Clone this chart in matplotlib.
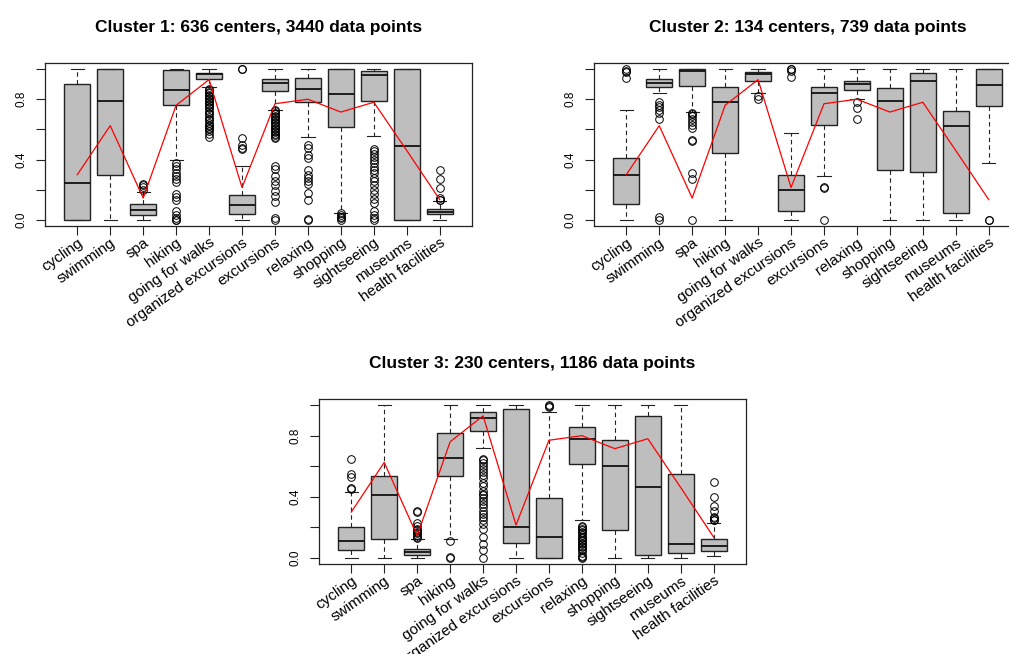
import matplotlib
matplotlib.use("Agg")
import matplotlib.pyplot as plt

plt.rcParams['font.family'] = ['Liberation Sans', 'DejaVu Sans']

activities = ["cycling", "swimming", "spa", "hiking", "going for walks",
              "organized excursions", "excursions", "relaxing", "shopping",
              "sightseeing", "museums", "health facilities"]

# overall mean per activity (red line, same in every panel)
overall_mean = [0.30, 0.625, 0.145, 0.76, 0.93, 0.215, 0.77, 0.80, 0.715, 0.78, 0.46, 0.135]

titles = ["Cluster 1: 636 centers, 3440 data points",
          "Cluster 2: 134 centers, 739 data points",
          "Cluster 3: 230 centers, 1186 data points"]

# cluster 1
c1_lo  = [0.0, 0.0, 0.0, 0.40, 0.88, 0.0, 0.73, 0.548, 0.048, 0.555, 0.0, 0.0]
c1_q1  = [0.0, 0.30, 0.033, 0.76, 0.936, 0.037, 0.855, 0.78, 0.614, 0.785, 0.0, 0.04]
c1_med = [0.245, 0.785, 0.068, 0.86, 0.965, 0.10, 0.91, 0.866, 0.833, 0.958, 0.49, 0.055]
c1_q3  = [0.90, 1.0, 0.105, 0.995, 0.976, 0.167, 0.934, 0.94, 1.0, 0.985, 1.0, 0.072]
c1_hi  = [1.0, 1.0, 0.186, 1.0, 1.0, 0.355, 1.0, 1.0, 1.0, 1.0, 1.0, 0.125]
c1_out = [
    [],
    [],
    [0.20, 0.22, 0.23, 0.24],
    [0.38, 0.36, 0.34, 0.31, 0.29, 0.27, 0.25, 0.17, 0.15, 0.13, 0.06, 0.03, 0.01, 0.0, 0.003],
    [0.87, 0.86, 0.85, 0.84, 0.83, 0.82, 0.81, 0.80, 0.79, 0.78, 0.77, 0.76, 0.75, 0.74,
     0.72, 0.71, 0.70, 0.68, 0.67, 0.66, 0.64, 0.63, 0.62, 0.61, 0.60, 0.59, 0.57, 0.55],
    [1.0, 0.997, 0.54, 0.50, 0.48, 0.47],
    [0.73, 0.72, 0.71, 0.70, 0.69, 0.68, 0.67, 0.66, 0.65, 0.64, 0.63, 0.62, 0.61, 0.60,
     0.59, 0.58, 0.57, 0.56, 0.55, 0.54, 0.36, 0.34, 0.29, 0.26, 0.23, 0.19, 0.16, 0.12,
     0.01, 0.0],
    [0.50, 0.48, 0.43, 0.41, 0.33, 0.30, 0.28, 0.26, 0.24, 0.18, 0.13, 0.0, 0.005],
    [0.045, 0.03, 0.02, 0.01, 0.0],
    [0.47, 0.46, 0.44, 0.42, 0.40, 0.38, 0.35, 0.33, 0.31, 0.28, 0.26, 0.23, 0.20, 0.17,
     0.14, 0.11, 0.06, 0.03, 0.01, 0.0],
    [],
    [0.33, 0.27, 0.21, 0.145, 0.135, 0.13],
]

# cluster 2
c2_lo  = [0.0, 0.842, 0.717, 0.0, 0.838, 0.0, 0.294, 0.80, 0.0, 0.0, 0.0, 0.38]
c2_q1  = [0.107, 0.88, 0.888, 0.443, 0.92, 0.061, 0.63, 0.864, 0.33, 0.316, 0.048, 0.752]
c2_med = [0.30, 0.91, 0.985, 0.78, 0.967, 0.20, 0.84, 0.90, 0.785, 0.923, 0.62, 0.893]
c2_q3  = [0.41, 0.932, 0.998, 0.88, 0.98, 0.296, 0.879, 0.92, 0.875, 0.971, 0.72, 1.0]
c2_hi  = [0.728, 1.0, 1.0, 1.0, 1.0, 0.575, 1.0, 1.0, 1.0, 1.0, 1.0, 1.0]
c2_out = [
    [1.0, 0.99, 0.98, 0.94],
    [0.78, 0.76, 0.75, 0.73, 0.71, 0.67, 0.02, 0.0],
    [0.71, 0.70, 0.69, 0.67, 0.65, 0.63, 0.61, 0.53, 0.52, 0.31, 0.27, 0.0],
    [],
    [0.82, 0.80],
    [1.0, 0.997, 0.99, 0.95],
    [0.22, 0.215, 0.0],
    [0.78, 0.74, 0.67],
    [],
    [],
    [],
    [0.0, 0.003],
]

# cluster 3
c3_lo  = [0.0, 0.0, 0.0, 0.125, 0.72, 0.0, 0.0, 0.246, 0.0, 0.0, 0.0, 0.011]
c3_q1  = [0.05, 0.125, 0.022, 0.537, 0.83, 0.10, 0.0, 0.612, 0.184, 0.022, 0.033, 0.048]
c3_med = [0.112, 0.414, 0.04, 0.651, 0.914, 0.20, 0.14, 0.778, 0.599, 0.465, 0.092, 0.081]
c3_q3  = [0.204, 0.535, 0.061, 0.82, 0.952, 0.974, 0.393, 0.86, 0.772, 0.928, 0.55, 0.125]
c3_hi  = [0.43, 1.0, 0.125, 1.0, 1.0, 1.0, 0.958, 1.0, 1.0, 1.0, 1.0, 0.23]
c3_out = [
    [0.65, 0.55, 0.53, 0.46, 0.45],
    [],
    [0.31, 0.30, 0.23, 0.21, 0.19, 0.18, 0.17, 0.16, 0.15, 0.14, 0.13],
    [0.11, 0.0, 0.003],
    [0.65, 0.64, 0.62, 0.60, 0.58, 0.56, 0.54, 0.52, 0.49, 0.47, 0.44, 0.42, 0.41, 0.39,
     0.37, 0.35, 0.33, 0.31, 0.29, 0.27, 0.25, 0.22, 0.19, 0.14, 0.09, 0.05, 0.0],
    [],
    [1.0, 0.997, 0.99],
    [0.21, 0.20, 0.19, 0.18, 0.17, 0.16, 0.15, 0.14, 0.13, 0.12, 0.11, 0.10, 0.09, 0.08,
     0.07, 0.06, 0.05, 0.03, 0.01, 0.0, 0.003],
    [],
    [],
    [],
    [0.50, 0.40, 0.34, 0.31, 0.27, 0.26, 0.25, 0.248],
]

clusters = [
    (c1_lo, c1_q1, c1_med, c1_q3, c1_hi, c1_out),
    (c2_lo, c2_q1, c2_med, c2_q3, c2_hi, c2_out),
    (c3_lo, c3_q1, c3_med, c3_q3, c3_hi, c3_out),
]

W, H = 1009, 654
fig = plt.figure(figsize=(W / 100, H / 100), dpi=100)

# axes rectangles in pixels: left, top, right, bottom
boxes_px = [(45, 63, 472, 226), (594, 63, 1021, 226), (319, 399, 746, 564)]

n = len(activities)
xs = list(range(1, n + 1))

for (l, t, r, b), title, data in zip(boxes_px, titles, clusters):
    ax = fig.add_axes([l / W, 1 - b / H, (r - l) / W, (b - t) / H])
    lo, q1, med, q3, hi, out = data
    stats = []
    for i in range(n):
        stats.append(dict(whislo=lo[i], q1=q1[i], med=med[i], q3=q3[i],
                          whishi=hi[i], fliers=out[i], label=activities[i]))
    ax.bxp(stats, positions=xs, widths=0.8, patch_artist=True,
           boxprops=dict(facecolor='#bebebe', edgecolor='#222222', linewidth=1.0),
           medianprops=dict(color='#111111', linewidth=1.3),
           whiskerprops=dict(color='#222222', linewidth=0.8, linestyle=(0, (4, 3))),
           capprops=dict(color='#222222', linewidth=0.8),
           capwidths=0.4,
           flierprops=dict(marker='o', markerfacecolor='none', markeredgecolor='black',
                           markersize=5.5, markeredgewidth=0.7))
    ax.plot(xs, overall_mean, color='red', linewidth=0.9, zorder=5)

    ax.set_xlim(0.02, 12.98)
    ax.set_ylim(-0.04, 1.04)
    ax.set_xticks(xs)
    ax.set_xticklabels(activities, rotation=35, ha='right', rotation_mode='anchor',
                       fontsize=11)
    ax.set_yticks([0.0, 0.2, 0.4, 0.6, 0.8, 1.0])
    ax.set_yticklabels(['0.0', '', '0.4', '', '0.8', ''], rotation=90, va='center',
                       fontsize=8.5)
    ax.tick_params(axis='both', length=6.5, width=0.8, color='#222222')
    ax.tick_params(axis='x', pad=0.5)
    ax.tick_params(axis='y', pad=6)
    for s in ax.spines.values():
        s.set_linewidth(0.9)
        s.set_color('#222222')
    ax.set_title(title, fontsize=12.5, fontweight='bold', pad=22)

fig.savefig("out.png", dpi=100)
